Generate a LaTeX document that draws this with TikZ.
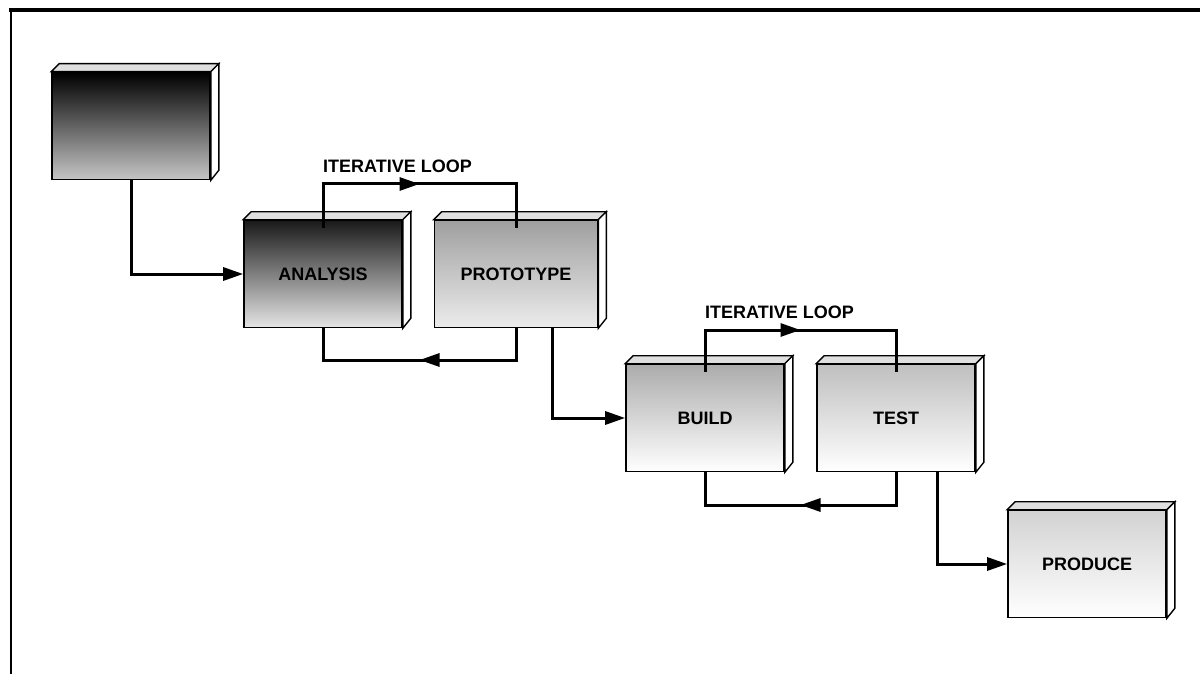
\documentclass[tikz,border=0pt]{standalone}
\usepackage{fontspec}
\setmainfont{Liberation Sans}
\usetikzlibrary{arrows.meta, positioning, calc, decorations.markings}

\begin{document}
\begin{tikzpicture}[x=1pt, y=-1pt,
    slab/.style={rectangle, draw, line width=1.6pt, minimum width=158pt, minimum height=107pt, inner sep=0pt, font=\fontsize{18}{21}\selectfont\bfseries},
    wire/.style={line width=3pt, -{Triangle[length=20pt,width=13pt]}},
    loopline/.style={line width=3pt, postaction={decorate}, decoration={markings, mark=at position 0.5 with {\arrow{Triangle[length=20pt,width=13pt]}}}},
    tag/.style={font=\fontsize{18}{21}\selectfont\bfseries, inner sep=0pt}]
    \useasboundingbox (0,0) rectangle (1200,674);
    % frame
    \draw[line width=4.5pt] (9,10) -- (1200,10);
    \draw[line width=2.5pt] (11,10) -- (11,674);
    % boxes
    \node [slab, top color=black, bottom color=gray!45] (req) at (131,126) {};
    \node [slab, top color=black!90, bottom color=gray!20] (ana) at (323,274) {ANALYSIS};
    \node [slab, top color=gray!75, bottom color=gray!15, minimum width=163pt] (pro) at (516,274) {PROTOTYPE};
    \node [slab, top color=gray!65, bottom color=white] (bld) at (705,418) {BUILD};
    \node [slab, top color=gray!50, bottom color=white] (tst) at (896,418) {TEST};
    \node [slab, top color=gray!35, bottom color=white] (prd) at (1087,564) {PRODUCE};
    \foreach \b in {req,ana,pro,bld,tst,prd} {
        \draw[line width=1.4pt, fill=gray!25] (\b.north west) -- ++(8,-8) -- ([shift={(8,-8)}]\b.north east) -- (\b.north east) -- cycle;
        \draw[line width=1.4pt, fill=white] (\b.north east) -- ++(8,-8) -- ([shift={(8,-10)}]\b.south east) -- (\b.south east) -- cycle;
    }
    % flow
    \draw [wire] (req.south) |- (ana.west);
    \draw [wire] ([xshift=36pt]pro.south) |- (bld.west);
    \draw [wire] ([xshift=41pt]tst.south) |- (prd.west);
    % iterative loops
    \coordinate (topA) at (0,184);
    \coordinate (botA) at (0,360);
    \coordinate (topB) at (0,330);
    \coordinate (botB) at (0,505);
    \draw [loopline] ([yshift=-8pt]ana.north) -- (ana.north |- topA) -- (pro.north |- topA) -- ([yshift=-8pt]pro.north);
    \draw [loopline] (pro.south) -- (pro.south |- botA) -- (ana.south |- botA) -- (ana.south);
    \draw [loopline] ([yshift=-8pt]bld.north) -- (bld.north |- topB) -- (tst.north |- topB) -- ([yshift=-8pt]tst.north);
    \draw [loopline] (tst.south) -- (tst.south |- botB) -- (bld.south |- botB) -- (bld.south);
    \node [tag, anchor=south west] (lblA) at ([yshift=11pt]ana.north |- topA) {ITERATIVE LOOP};
    \node [tag, anchor=south west] (lblB) at ([yshift=11pt]bld.north |- topB) {ITERATIVE LOOP};
\end{tikzpicture}
\end{document}
